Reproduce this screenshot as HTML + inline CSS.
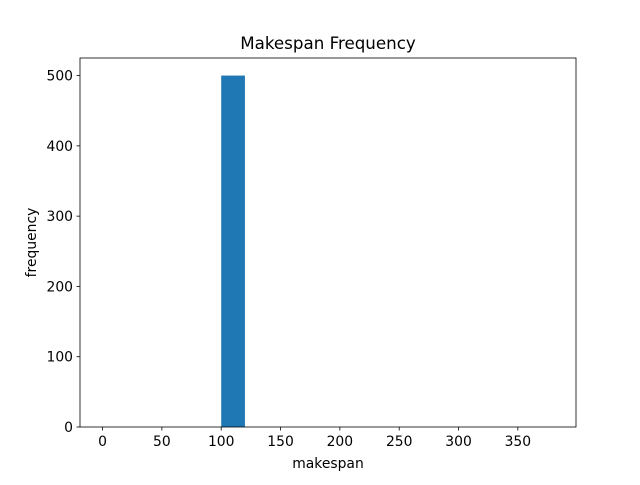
<!DOCTYPE html>
<html><head><meta charset="utf-8"><style>
body{margin:0;background:#fff;}
svg text{font-family:"DejaVu Sans","Liberation Sans",sans-serif;fill:#000;}
</style></head><body>
<svg id="chart" width="640" height="480" xmlns="http://www.w3.org/2000/svg">
<rect width="640" height="480" fill="#fff"/>
<text x="328" y="49" font-size="16.7" text-anchor="middle">Makespan Frequency</text>
<text x="328" y="468" font-size="13.9" text-anchor="middle">makespan</text>
<text transform="translate(36,242.5) rotate(-90)" font-size="13.9" text-anchor="middle">frequency</text>
<g id="bars"></g>
<g id="axes"></g>
</svg>
<script>
const binEdges = [0,20,40,60,80,100,120,140,160,180,200,220,240,260,280,300,320,340,360,380];
const counts = [0,0,0,0,0,500,0,0,0,0,0,0,0,0,0,0,0,0,0];
const xTicks = [0,50,100,150,200,250,300,350];
const yTicks = [0,100,200,300,400,500];

const L=80,R=576,T=58,B=427;
const xMin=-19,xMax=399,yMin=0,yMax=525;
const xs=v=>L+(v-xMin)/(xMax-xMin)*(R-L);
const ys=v=>B-(v-yMin)/(yMax-yMin)*(B-T);
const NS="http://www.w3.org/2000/svg";
const bars=document.getElementById('bars'), axes=document.getElementById('axes');
function mk(tag,attrs,parent){const e=document.createElementNS(NS,tag);for(const k in attrs)e.setAttribute(k,attrs[k]);parent.appendChild(e);return e;}
counts.forEach((c,i)=>{
  if(c<=0)return;
  const x0=xs(binEdges[i]),x1=xs(binEdges[i+1]);
  const r=mk('rect',{x:x0,y:ys(c),width:x1-x0,height:ys(0)-ys(c),fill:'#1f77b4'},bars);
  
  
});
const frame=mk('rect',{x:L,y:T,width:R-L,height:B-T,fill:'none',stroke:'#000','stroke-width':0.8},axes);


xTicks.forEach(v=>{
  const x=xs(v);
  mk('line',{x1:x,x2:x,y1:B,y2:B+3.5,stroke:'#000','stroke-width':0.8},axes);
  const t=mk('text',{x:x,y:B+19,'font-size':13.9,'text-anchor':'middle'},axes);
  t.textContent=v;
  
  
});
yTicks.forEach(v=>{
  const y=ys(v);
  mk('line',{x1:L-3.5,x2:L,y1:y,y2:y,stroke:'#000','stroke-width':0.8},axes);
  const t=mk('text',{x:L-7,y:y+5,'font-size':13.9,'text-anchor':'end'},axes);
  t.textContent=v;
  
  
});
</script>
</body></html>
